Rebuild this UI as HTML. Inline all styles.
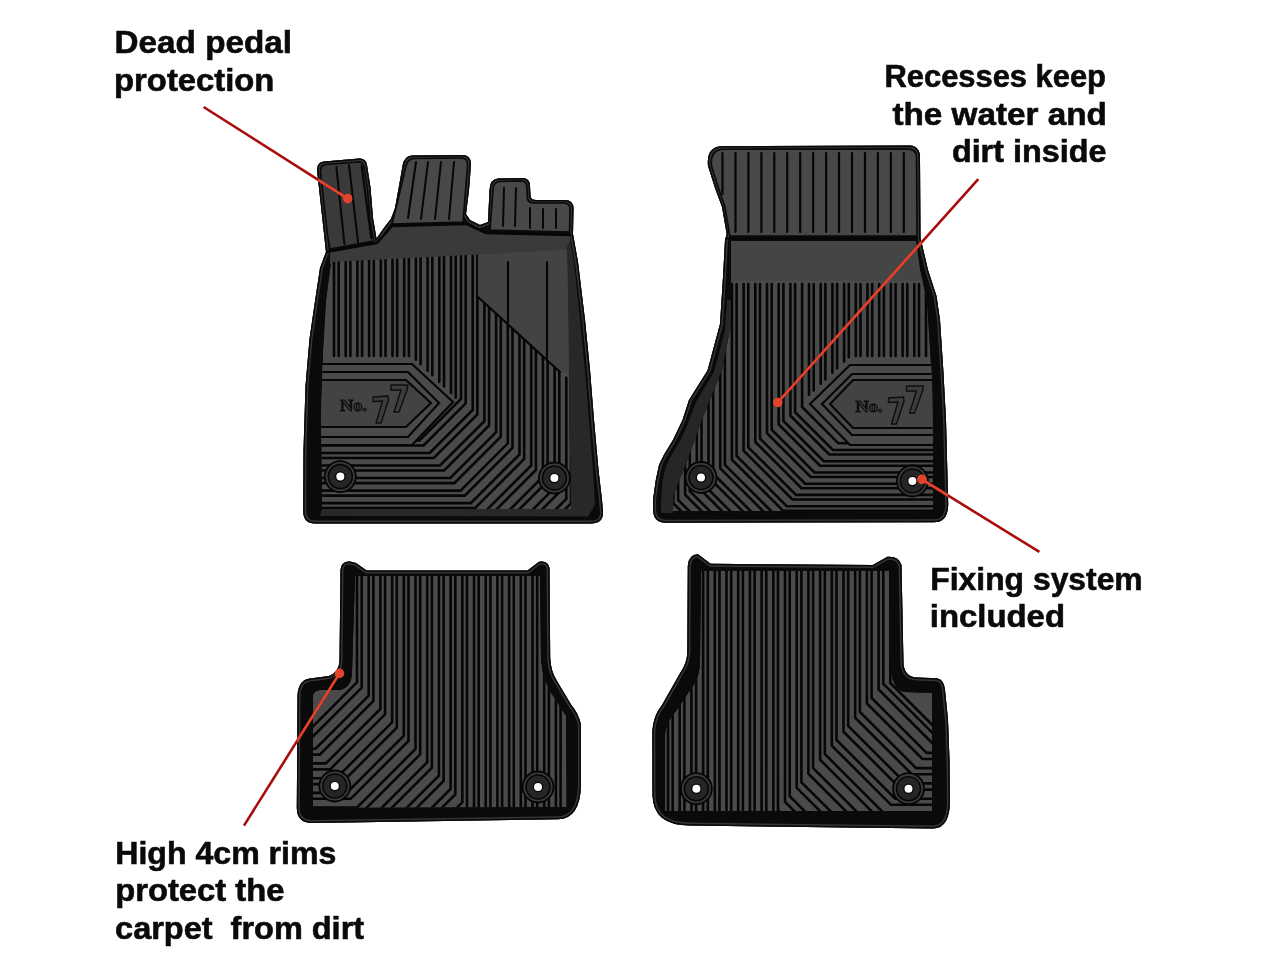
<!DOCTYPE html>
<html><head><meta charset="utf-8"><style>
html,body{margin:0;padding:0;background:#fff;width:1280px;height:960px;overflow:hidden}
svg{position:absolute;left:0;top:0;display:block;will-change:transform}
.t text{font-family:"Liberation Sans",sans-serif;font-weight:bold;font-size:31px;fill:#0a0a0a;stroke:#0a0a0a;stroke-width:0.6px}
</style></head><body>
<svg width="1280" height="960" viewBox="0 0 1280 960">
<defs><clipPath id="o1"><path d="M317,170 Q317,162 324,161.5 L359,158.5 Q366,158 367,165 L370.5,187.5 L373,218 L376.5,238.5 L384.6,227 L391,218.7 L395,208 L399,186 L402.5,166 Q404,156 412,155.5 L462,155 Q471,155 471,164 L469,190 L466,214 L470,220 L480,225 L488,222 L489.5,190 Q490,179 498,178.5 L522,178 Q530,178 530,186 L530.5,196 Q531,200 536,200 L565,200 Q573,200 573.5,208 L573,234 L578,262 L585,320 L590,370 L594,420 L598.5,470 L602,500 L603,512 Q603.5,523.5 591,523.5 L315,523.5 Q303.2,523.5 303.2,511 L303.5,450 L305.5,386 L309.5,339 L314,308 L320,268 L326,252 Z"/></clipPath>
<clipPath id="c1"><path d="M331,262 L567,250 L568,300 L569,380 L570,450 L571,509 L322,509 L321,420 L323,350 L326,300 Z"/></clipPath>
<clipPath id="o2"><path d="M708,166 Q706,147 722,146 L910,145.5 Q920,146 920,158 L920.5,238 L928,270 L936.5,296 L940,320 L943.3,370 L946,420 L947.3,470 L948.2,503 Q948.5,522.3 934,522.3 L666,522.7 Q653.3,522.7 653.2,510 L653,500 L655.8,480 L659,465 L663.8,455 L673,440 L682.5,420 L689,400 L707.5,370.6 L720,324 L723,277 L725,240 L726.7,234 L722,207 L715,188 Z"/></clipPath>
<clipPath id="c2"><path d="M731,241 L916,241 L920,270 L927,300 L932,380 L933,450 L933,511 L673,511 L673.5,495 L686,464 L703,417 L722,370 L731,324 L731,290 Z"/></clipPath>
<clipPath id="o3"><path d="M340.5,570 Q341,561 350,561.5 L356,563 L366.6,570.4 L527.5,570.4 L539,561.7 Q548,560 549.5,568 L550.2,658 Q551,672 557,681 L571,704.5 Q579,714 581,725 L581,785 Q580,819 558,819.3 L312,823 Q297,823 296.8,808 L297.5,696 Q298,679 312,678.3 L329,676 Q339,672 339.5,661 Z"/></clipPath>
<clipPath id="c3"><path d="M355,576 L540,576 L541,660 Q543,684 556,700 L566,716 L567,807 L313,808 L313,695 Q315,690 322,690 L340,690 Q352,687 352,672 Z"/></clipPath>
<clipPath id="o4"><path d="M687.8,566 Q688.5,554.5 698,554.3 L710.6,563.8 L872.9,565 L887.5,556.7 Q899,556 901.5,565 L903.5,664.5 Q905,677 917,677.5 L937,678.3 Q944.3,680 945,690 L948,720 L949.5,760 L950,800 Q950,828.5 933,828.5 L690,825.5 Q653,825.5 652.5,795 L652.3,731.6 Q653,716 662,705 L680,673.3 Q687,663 687.3,652.9 Z"/></clipPath>
<clipPath id="c4"><path d="M701,571 L890,571 L891,670 Q893,690 905,692 L932,693 L932,811 L665,811 L665,735 Q666,722 676,711 L693,686 Q700,676 700,660 Z"/></clipPath>
<clipPath id="mats"><path d="M317,170 Q317,162 324,161.5 L359,158.5 Q366,158 367,165 L370.5,187.5 L373,218 L376.5,238.5 L384.6,227 L391,218.7 L395,208 L399,186 L402.5,166 Q404,156 412,155.5 L462,155 Q471,155 471,164 L469,190 L466,214 L470,220 L480,225 L488,222 L489.5,190 Q490,179 498,178.5 L522,178 Q530,178 530,186 L530.5,196 Q531,200 536,200 L565,200 Q573,200 573.5,208 L573,234 L578,262 L585,320 L590,370 L594,420 L598.5,470 L602,500 L603,512 Q603.5,523.5 591,523.5 L315,523.5 Q303.2,523.5 303.2,511 L303.5,450 L305.5,386 L309.5,339 L314,308 L320,268 L326,252 Z"/><path d="M708,166 Q706,147 722,146 L910,145.5 Q920,146 920,158 L920.5,238 L928,270 L936.5,296 L940,320 L943.3,370 L946,420 L947.3,470 L948.2,503 Q948.5,522.3 934,522.3 L666,522.7 Q653.3,522.7 653.2,510 L653,500 L655.8,480 L659,465 L663.8,455 L673,440 L682.5,420 L689,400 L707.5,370.6 L720,324 L723,277 L725,240 L726.7,234 L722,207 L715,188 Z"/><path d="M340.5,570 Q341,561 350,561.5 L356,563 L366.6,570.4 L527.5,570.4 L539,561.7 Q548,560 549.5,568 L550.2,658 Q551,672 557,681 L571,704.5 Q579,714 581,725 L581,785 Q580,819 558,819.3 L312,823 Q297,823 296.8,808 L297.5,696 Q298,679 312,678.3 L329,676 Q339,672 339.5,661 Z"/><path d="M687.8,566 Q688.5,554.5 698,554.3 L710.6,563.8 L872.9,565 L887.5,556.7 Q899,556 901.5,565 L903.5,664.5 Q905,677 917,677.5 L937,678.3 Q944.3,680 945,690 L948,720 L949.5,760 L950,800 Q950,828.5 933,828.5 L690,825.5 Q653,825.5 652.5,795 L652.3,731.6 Q653,716 662,705 L680,673.3 Q687,663 687.3,652.9 Z"/></clipPath></defs>
<path d="M317,170 Q317,162 324,161.5 L359,158.5 Q366,158 367,165 L370.5,187.5 L373,218 L376.5,238.5 L384.6,227 L391,218.7 L395,208 L399,186 L402.5,166 Q404,156 412,155.5 L462,155 Q471,155 471,164 L469,190 L466,214 L470,220 L480,225 L488,222 L489.5,190 Q490,179 498,178.5 L522,178 Q530,178 530,186 L530.5,196 Q531,200 536,200 L565,200 Q573,200 573.5,208 L573,234 L578,262 L585,320 L590,370 L594,420 L598.5,470 L602,500 L603,512 Q603.5,523.5 591,523.5 L315,523.5 Q303.2,523.5 303.2,511 L303.5,450 L305.5,386 L309.5,339 L314,308 L320,268 L326,252 Z" fill="#0a0a0a"/><path d="M317,170 Q317,162 324,161.5 L359,158.5 Q366,158 367,165 L370.5,187.5 L373,218 L376.5,238.5 L384.6,227 L391,218.7 L395,208 L399,186 L402.5,166 Q404,156 412,155.5 L462,155 Q471,155 471,164 L469,190 L466,214 L470,220 L480,225 L488,222 L489.5,190 Q490,179 498,178.5 L522,178 Q530,178 530,186 L530.5,196 Q531,200 536,200 L565,200 Q573,200 573.5,208 L573,234 L578,262 L585,320 L590,370 L594,420 L598.5,470 L602,500 L603,512 Q603.5,523.5 591,523.5 L315,523.5 Q303.2,523.5 303.2,511 L303.5,450 L305.5,386 L309.5,339 L314,308 L320,268 L326,252 Z" fill="none" stroke="#353535" stroke-width="6" clip-path="url(#o1)"/><path d="M317,170 Q317,162 324,161.5 L359,158.5 Q366,158 367,165 L370.5,187.5 L373,218 L376.5,238.5 L384.6,227 L391,218.7 L395,208 L399,186 L402.5,166 Q404,156 412,155.5 L462,155 Q471,155 471,164 L469,190 L466,214 L470,220 L480,225 L488,222 L489.5,190 Q490,179 498,178.5 L522,178 Q530,178 530,186 L530.5,196 Q531,200 536,200 L565,200 Q573,200 573.5,208 L573,234 L578,262 L585,320 L590,370 L594,420 L598.5,470 L602,500 L603,512 Q603.5,523.5 591,523.5 L315,523.5 Q303.2,523.5 303.2,511 L303.5,450 L305.5,386 L309.5,339 L314,308 L320,268 L326,252 Z" fill="none" stroke="#0a0a0a" stroke-width="3" clip-path="url(#o1)"/>
<path d="M320.5,172 Q320.5,165 326,164.5 L358,162 Q363,162 364,168 L367.5,190 L370,220 L373.5,241 L330,249 L327.5,235 Z" fill="#3a3a3a" stroke="#0a0a0a" stroke-width="1.6"/>
<path d="M405.5,168 Q407,159 414,158.5 L461,158 Q468,158 467.5,166 L463,222 L392,224 L398,200 Z" fill="#484848" stroke="#0a0a0a" stroke-width="1.6"/>
<path d="M493,190 Q493,182 500,181.5 L521,181 Q527,181 527,188 L527.5,199 Q528,203 534,203 L564,203 Q570,203 570,210 L569.5,232 L490,230 Z" fill="#484848" stroke="#0a0a0a" stroke-width="1.6"/>
<path d="M336.4,167.0 L344.4,244.0 M349.0,165.0 L358.1,242.5 M361.6,166.0 L371.2,238.0 M416.0,162.0 L408.0,218.0 M428.0,162.0 L421.0,219.0 M441.0,162.0 L435.0,219.0 M454.0,162.0 L449.0,219.0 M504.0,188.0 L503.0,226.0 M516.0,188.0 L515.0,226.0 M530.0,208.0 L530.0,228.0 M543.0,209.0 L543.0,228.0 M556.0,209.0 L556.0,228.0" fill="none" stroke="#060606" stroke-width="2.0" stroke-linejoin="miter" stroke-linecap="round"/>
<path d="M330,251 L376,243 L392,226 L466,224 L486,233 L570,235 L572,262 L330,264 Z" fill="#3a3a3a"/>
<path d="M326,252 L377,243 L392,226 L466,224 L486,233 L571,235" fill="none" stroke="#060606" stroke-width="2.4"/>
<path d="M566,248 L571,509 L322,509 L320,516 L588,516.5 L595,505 L593,470 L589,420 L585,370 L580,320 L574,262 L570,240 Z" fill="#282828"/>
<g clip-path="url(#c1)"><path d="M331,262 L567,250 L568,300 L569,380 L570,450 L571,509 L322,509 L321,420 L323,350 L326,300 Z" fill="#4a4a4a"/>
<path d="M334.0,262.0 L334.0,356.0 M338.7,261.6 L338.7,356.0 M345.7,260.9 L345.7,356.0 M350.4,260.5 L350.4,356.0 M357.4,259.9 L357.4,356.0 M362.1,259.5 L362.1,356.0 M369.1,258.8 L369.1,356.0 M373.8,258.4 L373.8,356.0 M380.8,257.8 L380.8,356.0 M385.5,257.4 L385.5,356.0 M392.5,256.7 L392.5,356.0 M397.2,256.3 L397.2,356.0 M404.2,255.7 L404.2,356.0 M408.9,255.3 L408.9,356.0 M415.9,254.6 L415.9,359.7 M420.6,254.2 L420.6,364.2 M427.6,253.6 L427.6,370.8 M432.3,253.2 L432.3,375.3 M439.3,252.5 L439.3,381.9 M444.0,252.1 L444.0,386.4 M451.0,251.5 L451.0,393.0 M455.7,251.0 L455.7,397.5" fill="none" stroke="#060606" stroke-width="2.6" stroke-linejoin="miter" stroke-linecap="round"/>
<path d="M461.0,254.0 L461.0,398.9 L419.4,440.5 L19.4,440.5 M465.7,254.0 L465.7,403.3 L423.5,445.5 L23.5,445.5 M472.7,254.0 L472.7,410.0 L429.7,453.0 L29.7,453.0 M477.4,254.0 L477.4,414.4 L433.8,458.0 L33.8,458.0 M484.4,302.9 L484.4,421.1 L440.0,465.5 L40.0,465.5 M489.1,307.2 L489.1,425.5 L444.1,470.5 L44.1,470.5 M496.1,313.6 L496.1,432.2 L450.3,478.0 L50.3,478.0 M500.8,317.9 L500.8,436.7 L454.4,483.1 L54.4,483.1 M507.8,324.3 L507.8,443.3 L460.6,490.6 L60.6,490.6 M512.5,328.6 L512.5,447.8 L464.7,495.6 L64.7,495.6 M519.5,335.0 L519.5,454.4 L470.8,503.1 L70.8,503.1 M524.2,339.3 L524.2,458.9 L475.0,508.1 L75.0,508.1 M531.2,345.7 L531.2,465.5 L481.1,515.6 L81.1,515.6 M535.9,350.0 L535.9,470.0 L485.3,520.6 L85.3,520.6 M542.9,356.4 L542.9,476.7 L491.4,528.1 L91.4,528.1 M547.6,360.7 L547.6,481.1 L495.6,533.2 L95.6,533.2 M554.6,367.1 L554.6,487.8 L501.7,540.6 L101.7,540.6 M559.3,371.4 L559.3,492.2 L505.9,545.7 L105.9,545.7 M566.3,377.8 L566.3,498.9 L512.0,553.2 L112.0,553.2 M571.0,382.1 L571.0,503.4 L516.2,558.2 L116.2,558.2" fill="none" stroke="#060606" stroke-width="2.6" stroke-linejoin="miter" stroke-linecap="round"/>
<path d="M478,250 L478,297 L560,372 L580,372 L580,250 Z" fill="#434343"/>
<path d="M478.0,297.0 L560.0,372.0 M508.0,262.0 L508.0,322.0 M547.0,262.0 L547.0,358.0" fill="none" stroke="#060606" stroke-width="2.2" stroke-linejoin="miter" stroke-linecap="round"/>
<path d="M316,364 L412,364 L453,402 L412,445 L316,445 Z" fill="#4a4a4a" stroke="#060606" stroke-width="2.2"/>
<path d="M316,372 L408,372 L439,403 L408,437 L316,437 Z" fill="none" stroke="#060606" stroke-width="2.2"/>
<path d="M316,380 L406,380 L431,403 L406,427 L316,427 Z" fill="#434343" stroke="#060606" stroke-width="2.2"/>
<text x="340" y="411" font-family="Liberation Serif" font-weight="bold" font-size="17" textLength="27" lengthAdjust="spacingAndGlyphs" fill="#3a3a3a" stroke="#0e0e0e" stroke-width="1.1">No.</text><polygon points="373.0,397.0 388.0,396.0 388.5,400.0 381.0,423.0 376.0,423.0 382.5,401.0 373.0,401.5" fill="#3c3c3c" stroke="#0e0e0e" stroke-width="1.4" stroke-linejoin="round"/><polygon points="391.0,385.0 408.0,385.0 407.0,390.0 399.0,412.0 394.0,412.0 401.0,390.0 391.0,390.0" fill="#3c3c3c" stroke="#0e0e0e" stroke-width="1.4" stroke-linejoin="round"/></g>
<circle cx="340.3" cy="476.6" r="15.5" fill="#3a3a3a" stroke="#060606" stroke-width="1.8"/><circle cx="340.3" cy="476.6" r="12" fill="#262626" stroke="#060606" stroke-width="1.6"/><circle cx="340.3" cy="476.6" r="5.3" fill="#060606"/><circle cx="340.3" cy="476.6" r="4" fill="#fff"/>
<circle cx="554.4" cy="478" r="15.5" fill="#3a3a3a" stroke="#060606" stroke-width="1.8"/><circle cx="554.4" cy="478" r="12" fill="#262626" stroke="#060606" stroke-width="1.6"/><circle cx="554.4" cy="478" r="5.3" fill="#060606"/><circle cx="554.4" cy="478" r="4" fill="#fff"/>
<path d="M708,166 Q706,147 722,146 L910,145.5 Q920,146 920,158 L920.5,238 L928,270 L936.5,296 L940,320 L943.3,370 L946,420 L947.3,470 L948.2,503 Q948.5,522.3 934,522.3 L666,522.7 Q653.3,522.7 653.2,510 L653,500 L655.8,480 L659,465 L663.8,455 L673,440 L682.5,420 L689,400 L707.5,370.6 L720,324 L723,277 L725,240 L726.7,234 L722,207 L715,188 Z" fill="#0a0a0a"/><path d="M708,166 Q706,147 722,146 L910,145.5 Q920,146 920,158 L920.5,238 L928,270 L936.5,296 L940,320 L943.3,370 L946,420 L947.3,470 L948.2,503 Q948.5,522.3 934,522.3 L666,522.7 Q653.3,522.7 653.2,510 L653,500 L655.8,480 L659,465 L663.8,455 L673,440 L682.5,420 L689,400 L707.5,370.6 L720,324 L723,277 L725,240 L726.7,234 L722,207 L715,188 Z" fill="none" stroke="#353535" stroke-width="6" clip-path="url(#o2)"/><path d="M708,166 Q706,147 722,146 L910,145.5 Q920,146 920,158 L920.5,238 L928,270 L936.5,296 L940,320 L943.3,370 L946,420 L947.3,470 L948.2,503 Q948.5,522.3 934,522.3 L666,522.7 Q653.3,522.7 653.2,510 L653,500 L655.8,480 L659,465 L663.8,455 L673,440 L682.5,420 L689,400 L707.5,370.6 L720,324 L723,277 L725,240 L726.7,234 L722,207 L715,188 Z" fill="none" stroke="#0a0a0a" stroke-width="3" clip-path="url(#o2)"/>
<path d="M727,300 L725,330 L714,372 L696,402 L689,421 L680,441 L671,456 L666,466 L662.5,481 L661,500 L661,513 L673,513 L673.5,495 L686,464 L703,417 L722,370 L731,324 L731,300 Z" fill="#262626"/>
<path d="M711.5,166 Q710,149.5 724,149.2 L908,149 Q916.5,149.5 916.5,158 L917,236 L729.8,236 L725,207 L718.5,188 Z" fill="#484848" stroke="#0a0a0a" stroke-width="1.6"/>
<path d="M722.5,153.0 L722.5,194.0 M735.5,153.0 L735.5,232.0 M748.4,153.0 L748.4,232.0 M761.4,153.0 L761.4,232.0 M774.3,153.0 L774.3,232.0 M787.2,153.0 L787.2,232.0 M800.2,153.0 L800.2,232.0 M813.1,153.0 L813.1,232.0 M826.1,153.0 L826.1,232.0 M839.0,153.0 L839.0,232.0 M852.0,153.0 L852.0,232.0 M865.0,153.0 L865.0,232.0 M877.9,153.0 L877.9,232.0 M890.9,153.0 L890.9,232.0 M903.8,153.0 L903.8,232.0" fill="none" stroke="#060606" stroke-width="2.2" stroke-linejoin="miter" stroke-linecap="round"/>
<line x1="726" y1="238.5" x2="918" y2="238.5" stroke="#060606" stroke-width="2"/>
<g clip-path="url(#c2)"><path d="M731,241 L916,241 L920,270 L927,300 L932,380 L933,450 L933,511 L673,511 L673.5,495 L686,464 L703,417 L722,370 L731,324 L731,290 Z" fill="#4a4a4a"/>
<rect x="725" y="241" width="210" height="40" fill="#454545"/>
<path d="M809.0,284.0 L809.0,394.9 M813.7,284.0 L813.7,390.5 M820.7,284.0 L820.7,383.8 M825.4,284.0 L825.4,379.4 M832.4,284.0 L832.4,372.7 M837.1,284.0 L837.1,368.3 M844.1,284.0 L844.1,361.6 M848.8,284.0 L848.8,357.1 M855.8,284.0 L855.8,356.0 M860.5,284.0 L860.5,356.0 M867.5,284.0 L867.5,356.0 M872.2,284.0 L872.2,356.0 M879.2,284.0 L879.2,356.0 M883.9,284.0 L883.9,356.0 M890.9,284.0 L890.9,356.0 M895.6,284.0 L895.6,356.0 M902.6,284.0 L902.6,356.0 M907.3,284.0 L907.3,356.0 M914.3,284.0 L914.3,356.0 M919.0,284.0 L919.0,356.0 M926.0,284.0 L926.0,356.0" fill="none" stroke="#060606" stroke-width="2.6" stroke-linejoin="miter" stroke-linecap="round"/>
<path d="M802.1,284.0 L802.1,406.9 L838.4,443.3 L1238.4,443.3 M795.1,284.0 L795.1,412.2 L832.9,450.0 L1232.9,450.0 M790.4,284.0 L790.4,415.7 L829.2,454.5 L1229.2,454.5 M783.4,284.0 L783.4,420.9 L823.7,461.2 L1223.7,461.2 M778.7,284.0 L778.7,424.5 L820.0,465.7 L1220.0,465.7 M771.7,284.0 L771.7,429.7 L814.4,472.5 L1214.4,472.5 M767.0,284.0 L767.0,433.2 L810.7,477.0 L1210.7,477.0 M760.0,284.0 L760.0,438.5 L805.2,483.7 L1205.2,483.7 M755.3,284.0 L755.3,442.0 L801.5,488.2 L1201.5,488.2 M748.3,284.0 L748.3,447.3 L796.0,494.9 L1196.0,494.9 M743.6,284.0 L743.6,450.8 L792.3,499.5 L1192.3,499.5 M736.6,284.0 L736.6,456.0 L786.7,506.2 L1186.7,506.2 M731.9,284.0 L731.9,459.6 L783.0,510.7 L1183.0,510.7 M724.9,284.0 L724.9,464.8 L777.5,517.4 L1177.5,517.4 M720.2,284.0 L720.2,468.3 L773.8,521.9 L1173.8,521.9 M713.2,284.0 L713.2,473.6 L768.3,528.7 L1168.3,528.7 M708.5,284.0 L708.5,477.1 L764.6,533.2 L1164.6,533.2 M701.5,284.0 L701.5,482.4 L759.0,539.9 L1159.0,539.9 M696.8,284.0 L696.8,485.9 L755.3,544.4 L1155.3,544.4 M689.8,284.0 L689.8,491.1 L749.8,551.1 L1149.8,551.1 M685.1,284.0 L685.1,494.7 L746.1,555.7 L1146.1,555.7 M678.1,284.0 L678.1,499.9 L740.6,562.4 L1140.6,562.4 M673.4,284.0 L673.4,503.4 L736.8,566.9 L1136.8,566.9 M666.4,284.0 L666.4,508.7 L731.3,573.6 L1131.3,573.6 M661.7,284.0 L661.7,512.2 L727.6,578.1 L1127.6,578.1 M654.7,284.0 L654.7,517.5 L722.1,584.9 L1122.1,584.9 M650.0,284.0 L650.0,521.0 L718.4,589.4 L1118.4,589.4" fill="none" stroke="#060606" stroke-width="2.6" stroke-linejoin="miter" stroke-linecap="round"/>
<path d="M940,365 L850,365 L810,404 L850,445 L940,445 Z" fill="#4a4a4a" stroke="#060606" stroke-width="2.2"/>
<path d="M940,374 L852,374 L822,404 L852,435 L940,435 Z" fill="none" stroke="#060606" stroke-width="2.2"/>
<path d="M940,380 L853,380 L830,404 L853,428 L940,428 Z" fill="#434343" stroke="#060606" stroke-width="2.2"/>
<text x="855.5" y="412" font-family="Liberation Serif" font-weight="bold" font-size="17" textLength="27" lengthAdjust="spacingAndGlyphs" fill="#3a3a3a" stroke="#0e0e0e" stroke-width="1.1">No.</text><polygon points="888.5,398.0 903.5,397.0 904.0,401.0 896.5,424.0 891.5,424.0 898.0,402.0 888.5,402.5" fill="#3c3c3c" stroke="#0e0e0e" stroke-width="1.4" stroke-linejoin="round"/><polygon points="906.5,386.0 923.5,386.0 922.5,391.0 914.5,413.0 909.5,413.0 916.5,391.0 906.5,391.0" fill="#3c3c3c" stroke="#0e0e0e" stroke-width="1.4" stroke-linejoin="round"/></g>
<circle cx="701" cy="477.5" r="15.5" fill="#3a3a3a" stroke="#060606" stroke-width="1.8"/><circle cx="701" cy="477.5" r="12" fill="#262626" stroke="#060606" stroke-width="1.6"/><circle cx="701" cy="477.5" r="5.3" fill="#060606"/><circle cx="701" cy="477.5" r="4" fill="#fff"/>
<circle cx="912.4" cy="481" r="15.5" fill="#3a3a3a" stroke="#060606" stroke-width="1.8"/><circle cx="912.4" cy="481" r="12" fill="#262626" stroke="#060606" stroke-width="1.6"/><circle cx="912.4" cy="481" r="5.3" fill="#060606"/><circle cx="912.4" cy="481" r="4" fill="#fff"/>
<path d="M340.5,570 Q341,561 350,561.5 L356,563 L366.6,570.4 L527.5,570.4 L539,561.7 Q548,560 549.5,568 L550.2,658 Q551,672 557,681 L571,704.5 Q579,714 581,725 L581,785 Q580,819 558,819.3 L312,823 Q297,823 296.8,808 L297.5,696 Q298,679 312,678.3 L329,676 Q339,672 339.5,661 Z" fill="#0a0a0a"/><path d="M340.5,570 Q341,561 350,561.5 L356,563 L366.6,570.4 L527.5,570.4 L539,561.7 Q548,560 549.5,568 L550.2,658 Q551,672 557,681 L571,704.5 Q579,714 581,725 L581,785 Q580,819 558,819.3 L312,823 Q297,823 296.8,808 L297.5,696 Q298,679 312,678.3 L329,676 Q339,672 339.5,661 Z" fill="none" stroke="#353535" stroke-width="6" clip-path="url(#o3)"/><path d="M340.5,570 Q341,561 350,561.5 L356,563 L366.6,570.4 L527.5,570.4 L539,561.7 Q548,560 549.5,568 L550.2,658 Q551,672 557,681 L571,704.5 Q579,714 581,725 L581,785 Q580,819 558,819.3 L312,823 Q297,823 296.8,808 L297.5,696 Q298,679 312,678.3 L329,676 Q339,672 339.5,661 Z" fill="none" stroke="#0a0a0a" stroke-width="3" clip-path="url(#o3)"/>
<g clip-path="url(#c3)"><path d="M355,576 L540,576 L541,660 Q543,684 556,700 L566,716 L567,807 L313,808 L313,695 Q315,690 322,690 L340,690 Q352,687 352,672 Z" fill="#4a4a4a"/>
<path d="M357.0,576.0 L357.0,682.3 L-43.0,1082.3 M361.7,576.0 L361.7,687.7 L-38.3,1087.7 M368.7,576.0 L368.7,695.6 L315.6,748.7 L-84.4,748.7 M373.4,576.0 L373.4,701.0 L319.8,754.6 L-80.2,754.6 M380.4,576.0 L380.4,709.0 L325.9,763.4 L-74.1,763.4 M385.1,576.0 L385.1,714.3 L330.1,769.4 L-69.9,769.4 M392.1,576.0 L392.1,722.3 L336.3,778.2 L-63.7,778.2 M396.8,576.0 L396.8,727.7 L340.4,784.1 L-59.6,784.1 M403.8,576.0 L403.8,735.7 L346.6,792.9 L-53.4,792.9 M408.5,576.0 L408.5,741.0 L350.7,798.8 L-49.3,798.8 M415.5,576.0 L415.5,749.0 L356.9,807.6 L-43.1,807.6 M420.2,576.0 L420.2,754.3 L20.2,1154.3 M427.2,576.0 L427.2,762.3 L27.2,1162.3 M431.9,576.0 L431.9,767.7 L31.9,1167.7 M438.9,576.0 L438.9,775.7 L38.9,1175.7 M443.6,576.0 L443.6,781.0 L43.6,1181.0 M450.6,576.0 L450.6,789.0 L50.6,1189.0 M455.3,576.0 L455.3,794.4 L55.3,1194.4 M462.3,576.0 L462.3,802.3 L62.3,1202.3 M467.0,576.0 L467.0,807.7 L67.0,1207.7 M474.0,576.0 L474.0,815.7 L74.0,1215.7 M478.7,576.0 L478.7,821.0 L78.7,1221.0 M485.7,576.0 L485.7,829.0 L85.7,1229.0 M490.4,576.0 L490.4,834.4 L90.4,1234.4 M497.4,576.0 L497.4,842.4 L97.4,1242.4 M502.1,576.0 L502.1,847.7 L102.1,1247.7 M509.1,576.0 L509.1,855.7 L109.1,1255.7 M513.8,576.0 L513.8,861.1 L113.8,1261.1 M520.8,576.0 L520.8,869.0 L120.8,1269.0 M525.5,576.0 L525.5,874.4 L125.5,1274.4 M532.5,576.0 L532.5,882.4 L132.5,1282.4 M537.2,576.0 L537.2,887.7 L137.2,1287.7 M544.2,576.0 L544.2,895.7 L144.2,1295.7 M548.9,576.0 L548.9,901.1 L148.9,1301.1 M555.9,576.0 L555.9,909.0 L155.9,1309.0 M560.6,576.0 L560.6,914.4 L160.6,1314.4 M567.6,576.0 L567.6,922.4 L167.6,1322.4" fill="none" stroke="#060606" stroke-width="2.6" stroke-linejoin="miter" stroke-linecap="round"/></g>
<circle cx="334.8" cy="786" r="15.5" fill="#3a3a3a" stroke="#060606" stroke-width="1.8"/><circle cx="334.8" cy="786" r="12" fill="#262626" stroke="#060606" stroke-width="1.6"/><circle cx="334.8" cy="786" r="5.3" fill="#060606"/><circle cx="334.8" cy="786" r="4" fill="#fff"/>
<circle cx="538" cy="787" r="15.5" fill="#3a3a3a" stroke="#060606" stroke-width="1.8"/><circle cx="538" cy="787" r="12" fill="#262626" stroke="#060606" stroke-width="1.6"/><circle cx="538" cy="787" r="5.3" fill="#060606"/><circle cx="538" cy="787" r="4" fill="#fff"/>
<path d="M687.8,566 Q688.5,554.5 698,554.3 L710.6,563.8 L872.9,565 L887.5,556.7 Q899,556 901.5,565 L903.5,664.5 Q905,677 917,677.5 L937,678.3 Q944.3,680 945,690 L948,720 L949.5,760 L950,800 Q950,828.5 933,828.5 L690,825.5 Q653,825.5 652.5,795 L652.3,731.6 Q653,716 662,705 L680,673.3 Q687,663 687.3,652.9 Z" fill="#0a0a0a"/><path d="M687.8,566 Q688.5,554.5 698,554.3 L710.6,563.8 L872.9,565 L887.5,556.7 Q899,556 901.5,565 L903.5,664.5 Q905,677 917,677.5 L937,678.3 Q944.3,680 945,690 L948,720 L949.5,760 L950,800 Q950,828.5 933,828.5 L690,825.5 Q653,825.5 652.5,795 L652.3,731.6 Q653,716 662,705 L680,673.3 Q687,663 687.3,652.9 Z" fill="none" stroke="#353535" stroke-width="6" clip-path="url(#o4)"/><path d="M687.8,566 Q688.5,554.5 698,554.3 L710.6,563.8 L872.9,565 L887.5,556.7 Q899,556 901.5,565 L903.5,664.5 Q905,677 917,677.5 L937,678.3 Q944.3,680 945,690 L948,720 L949.5,760 L950,800 Q950,828.5 933,828.5 L690,825.5 Q653,825.5 652.5,795 L652.3,731.6 Q653,716 662,705 L680,673.3 Q687,663 687.3,652.9 Z" fill="none" stroke="#0a0a0a" stroke-width="3" clip-path="url(#o4)"/>
<g clip-path="url(#c4)"><path d="M701,571 L890,571 L891,670 Q893,690 905,692 L932,693 L932,811 L665,811 L665,735 Q666,722 676,711 L693,686 Q700,676 700,660 Z" fill="#4a4a4a"/>
<path d="M890.3,571.0 L890.3,683.0 L1290.3,1083.0 M883.3,571.0 L883.3,683.8 L1283.3,1083.8 M878.6,571.0 L878.6,689.5 L1278.6,1089.5 M871.6,571.0 L871.6,697.9 L926.6,752.9 L1326.6,752.9 M866.9,571.0 L866.9,703.5 L922.4,759.0 L1322.4,759.0 M859.9,571.0 L859.9,711.9 L916.1,768.1 L1316.1,768.1 M855.2,571.0 L855.2,717.6 L911.9,774.3 L1311.9,774.3 M848.2,571.0 L848.2,726.0 L905.7,783.4 L1305.7,783.4 M843.5,571.0 L843.5,731.6 L901.5,789.6 L1301.5,789.6 M836.5,571.0 L836.5,740.0 L895.2,798.7 L1295.2,798.7 M831.8,571.0 L831.8,745.6 L891.0,804.8 L1291.0,804.8 M824.8,571.0 L824.8,754.0 L884.7,814.0 L1284.7,814.0 M820.1,571.0 L820.1,759.7 L1220.1,1159.7 M813.1,571.0 L813.1,768.1 L1213.1,1168.1 M808.4,571.0 L808.4,773.7 L1208.4,1173.7 M801.4,571.0 L801.4,782.1 L1201.4,1182.1 M796.7,571.0 L796.7,787.8 L1196.7,1187.8 M789.7,571.0 L789.7,796.2 L1189.7,1196.2 M785.0,571.0 L785.0,801.8 L1185.0,1201.8 M778.0,571.0 L778.0,810.2 L1178.0,1210.2 M773.3,571.0 L773.3,815.8 L1173.3,1215.8 M766.3,571.0 L766.3,824.2 L1166.3,1224.2 M761.6,571.0 L761.6,829.9 L1161.6,1229.9 M754.6,571.0 L754.6,838.3 L1154.6,1238.3 M749.9,571.0 L749.9,843.9 L1149.9,1243.9 M742.9,571.0 L742.9,852.3 L1142.9,1252.3 M738.2,571.0 L738.2,858.0 L1138.2,1258.0 M731.2,571.0 L731.2,866.4 L1131.2,1266.4 M726.5,571.0 L726.5,872.0 L1126.5,1272.0 M719.5,571.0 L719.5,880.4 L1119.5,1280.4 M714.8,571.0 L714.8,886.0 L1114.8,1286.0 M707.8,571.0 L707.8,894.4 L1107.8,1294.4 M703.1,571.0 L703.1,900.1 L1103.1,1300.1 M696.1,571.0 L696.1,908.5 L1096.1,1308.5 M691.4,571.0 L691.4,914.1 L1091.4,1314.1 M684.4,571.0 L684.4,922.5 L1084.4,1322.5 M679.7,571.0 L679.7,928.2 L1079.7,1328.2 M672.7,571.0 L672.7,936.6 L1072.7,1336.6 M668.0,571.0 L668.0,942.2 L1068.0,1342.2" fill="none" stroke="#060606" stroke-width="2.6" stroke-linejoin="miter" stroke-linecap="round"/></g>
<circle cx="696.4" cy="788.7" r="15.5" fill="#3a3a3a" stroke="#060606" stroke-width="1.8"/><circle cx="696.4" cy="788.7" r="12" fill="#262626" stroke="#060606" stroke-width="1.6"/><circle cx="696.4" cy="788.7" r="5.3" fill="#060606"/><circle cx="696.4" cy="788.7" r="4" fill="#fff"/>
<circle cx="908.5" cy="788.7" r="15.5" fill="#3a3a3a" stroke="#060606" stroke-width="1.8"/><circle cx="908.5" cy="788.7" r="12" fill="#262626" stroke="#060606" stroke-width="1.6"/><circle cx="908.5" cy="788.7" r="5.3" fill="#060606"/><circle cx="908.5" cy="788.7" r="4" fill="#fff"/>
<line x1="203.6" y1="107" x2="347.7" y2="198.6" stroke="#aa0b0b" stroke-width="2.6"/>
<line x1="203.6" y1="107" x2="347.7" y2="198.6" stroke="#e2432c" stroke-width="2.6" clip-path="url(#mats)"/>
<circle cx="347.7" cy="198.6" r="4.8" fill="#e2432c"/>
<line x1="978.3" y1="179.2" x2="777.8" y2="402.5" stroke="#aa0b0b" stroke-width="2.6"/>
<line x1="978.3" y1="179.2" x2="777.8" y2="402.5" stroke="#e2432c" stroke-width="2.6" clip-path="url(#mats)"/>
<circle cx="777.8" cy="402.5" r="4.8" fill="#e2432c"/>
<line x1="1039.4" y1="551.9" x2="921.9" y2="479.4" stroke="#aa0b0b" stroke-width="2.6"/>
<line x1="1039.4" y1="551.9" x2="921.9" y2="479.4" stroke="#e2432c" stroke-width="2.6" clip-path="url(#mats)"/>
<circle cx="921.9" cy="479.4" r="4.8" fill="#e2432c"/>
<line x1="244" y1="825.6" x2="339.5" y2="673.4" stroke="#aa0b0b" stroke-width="2.6"/>
<line x1="244" y1="825.6" x2="339.5" y2="673.4" stroke="#e2432c" stroke-width="2.6" clip-path="url(#mats)"/>
<circle cx="339.5" cy="673.4" r="4.8" fill="#e2432c"/>
<g class="t"><text x="114.6" y="52.8" textLength="177.4" lengthAdjust="spacingAndGlyphs" xml:space="preserve">Dead pedal</text>
<text x="114.1" y="90.8" textLength="160.2" lengthAdjust="spacingAndGlyphs" xml:space="preserve">protection</text>
<text x="884.5" y="86.9" textLength="221.4" lengthAdjust="spacingAndGlyphs" xml:space="preserve">Recesses keep</text>
<text x="892.4" y="124.6" textLength="214.4" lengthAdjust="spacingAndGlyphs" xml:space="preserve">the water and</text>
<text x="951.9" y="161.6" textLength="154.5" lengthAdjust="spacingAndGlyphs" xml:space="preserve">dirt inside</text>
<text x="930.3" y="589.7" textLength="212.4" lengthAdjust="spacingAndGlyphs" xml:space="preserve">Fixing system</text>
<text x="929.8" y="627.2" textLength="135.2" lengthAdjust="spacingAndGlyphs" xml:space="preserve">included</text>
<text x="115.3" y="863.7" textLength="221.0" lengthAdjust="spacingAndGlyphs" xml:space="preserve">High 4cm rims</text>
<text x="115.2" y="900.7" textLength="169.3" lengthAdjust="spacingAndGlyphs" xml:space="preserve">protect the</text>
<text x="115.1" y="938.6" textLength="249.0" lengthAdjust="spacingAndGlyphs" xml:space="preserve">carpet  from dirt</text></g>
</svg>
</body></html>
